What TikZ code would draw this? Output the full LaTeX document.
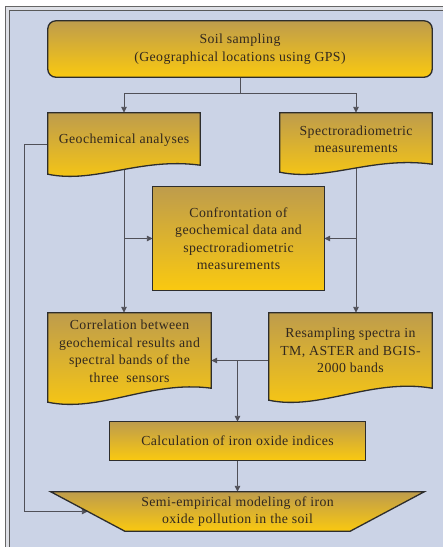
\documentclass[tikz,border=0pt]{standalone}
\usepackage{fontspec}
\setmainfont{Liberation Serif}[LetterSpace=3]
\usetikzlibrary{arrows.meta,calc}
\definecolor{bgblue}{RGB}{203,211,230}
\definecolor{framegray}{RGB}{222,224,230}
\definecolor{tanc}{RGB}{190,156,76}
\definecolor{goldc}{RGB}{250,201,16}
\definecolor{edgec}{RGB}{45,45,45}
\definecolor{wirec}{RGB}{80,80,88}
\definecolor{textc}{RGB}{50,40,30}
\pgfdeclarelayer{back}\pgfdeclarelayer{wires}\pgfdeclarelayer{shapes}
\pgfsetlayers{back,wires,shapes,main}
\begin{document}
\begin{tikzpicture}[x=1pt,y=-1pt,
  txt/.style={align=center, font=\fontsize{13.8}{17.5}\selectfont, text=textc, inner sep=0pt},
  boxfill/.style={draw=edgec, line width=1.3pt, top color=tanc, bottom color=goldc},
  wire/.style={draw=wirec, line width=0.9pt},
  arr/.style={wire, -{Triangle[length=6pt,width=5.5pt]}}]
\useasboundingbox (0,0) rectangle (443,547);
\begin{pgfonlayer}{back}
  \clip (0,0) rectangle (443,547);
  \fill[white] (0,0) rectangle (443,547);
  \fill[framegray, draw=black!60, line width=0.8pt] (5.5,6.5) rectangle (460,560);
  \fill[bgblue, draw=black!65, line width=0.8pt] (9,10) rectangle (460,560);
\end{pgfonlayer}

% nodes (text + geometry)
\node[txt, minimum width=384pt, minimum height=56pt] (soil) at (240,49) {Soil sampling\\(Geographical locations using GPS)};
\node[txt, minimum width=152pt, minimum height=55pt] (geo) at (124,140.5) {Geochemical analyses};
\node[txt, minimum width=152pt, minimum height=53pt] (spec) at (356,139.5) {Spectroradiometric\\measurements};
\node[txt, minimum width=171pt, minimum height=103pt] (conf) at (238.5,238.5) {Confrontation of\\geochemical data and\\spectroradiometric\\measurements};
\node[txt, minimum width=163pt, minimum height=77pt] (corr) at (129.5,351.5) {Correlation between\\geochemical results and\\spectral bands of the\\three\ \ sensors};
\node[txt, minimum width=163pt, minimum height=75pt] (res) at (350.5,350.5) {Resampling spectra in\\TM, ASTER and BGIS-\\2000 bands};
\node[txt, minimum width=255pt, minimum height=38pt] (calc) at (237.5,441) {Calculation of iron oxide indices};
\node[txt, minimum width=373pt, minimum height=39pt] (sem) at (237.5,511.5) {Semi-empirical modeling of iron\\oxide pollution in the soil};
\coordinate (semL) at ($(sem.north west)!0.5!(sem.south west)+(37,0)$);

% shapes
\begin{pgfonlayer}{shapes}
  \draw[boxfill, rounded corners=8pt] (soil.north west) rectangle (soil.south east);
  \draw[boxfill] (geo.north west) -- (geo.north east) -- ($(geo.south east)+(0,-3)$)
     .. controls (140,157) and (95,184) .. ($(geo.south west)+(0,6)$) -- cycle;
  \draw[boxfill] (spec.north west) -- (spec.north east) -- ($(spec.south east)+(0,-2)$)
     .. controls (372,156) and (327,182) .. ($(spec.south west)+(0,6)$) -- cycle;
  \draw[boxfill] (conf.north west) rectangle (conf.south east);
  \draw[boxfill] (corr.north west) -- (corr.north east) -- ($(corr.south east)+(0,-2)$)
     .. controls (150,380) and (100,413) .. ($(corr.south west)+(0,12)$) -- cycle;
  \draw[boxfill] (res.north west) -- (res.north east) -- (res.south east)
     .. controls (371,378) and (320,411) .. ($(res.south west)+(0,12)$) -- cycle;
  \draw[boxfill] (calc.north west) rectangle (calc.south east);
  \draw[boxfill] (sem.north west) -- (sem.north east) -- ($(sem.south east)+(-74,0)$)
     -- ($(sem.south west)+(74,0)$) -- cycle;
\end{pgfonlayer}

% connectors
\begin{pgfonlayer}{wires}
  \draw[wire] (soil.south) -- ++(0,16) coordinate (split);
  \draw[arr] (split) -| (geo.north);
  \draw[arr] (split) -| (spec.north);
  \draw[arr] (geo.south) -- (geo.south |- corr.north);
  \draw[arr] (geo.south |- conf.west) -- (conf.west);
  \draw[arr] (spec.south) -- (spec.south |- res.north);
  \draw[arr] (spec.south |- conf.east) -- (conf.east);
  \coordinate (resw) at ($(res.west)+(0,10)$);
  \draw[arr] (resw) -- (corr.east |- resw);
  \draw[arr] (calc.north |- resw) -- (calc.north);
  \draw[arr] (calc.south) -- (sem.north);
  \draw[arr] ($(geo.west)+(0,3.5)$) -- ++(-23,0) |- (semL);
\end{pgfonlayer}
\end{tikzpicture}
\end{document}
